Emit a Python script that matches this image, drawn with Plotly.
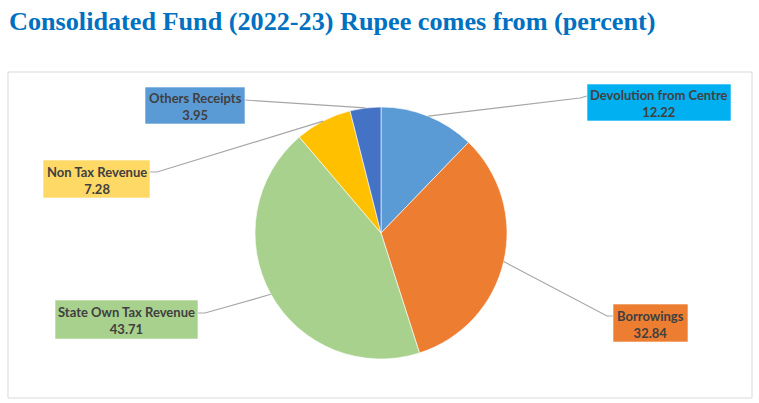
import math
import plotly.graph_objects as go

W, H = 759, 403

labels = ["Devolution from Centre", "Borrowings", "State Own Tax Revenue", "Non Tax Revenue", "Others Receipts"]
values = [12.22, 32.84, 43.71, 7.28, 3.95]
slice_colors = ["#5B9BD5", "#ED7D31", "#A9D18E", "#FFC000", "#4472C4"]
box_colors = ["#00B0F0", "#ED7D31", "#A9D18E", "#FFD966", "#5B9BD5"]

# label box geometry (pixels): x0, y0, x1, y1 ; leader bend point and box attach point
boxes = [(587, 84, 731, 121), (613, 304, 688, 342), (55, 300, 198, 339), (43, 160, 150, 198), (145, 87, 245, 124)]
stubs = [((580, 98), (587, 96)), ((607, 316), (613, 316)), ((205, 313), (198, 313)), ((157, 172), (150, 172)), ((245, 100), (245, 100))]

CX, CY, R = 381, 233, 126


def px(x):
    return x / W


def py(y):
    return 1 - y / H


fig = go.Figure(go.Pie(
    labels=labels, values=values, sort=False, direction="clockwise", rotation=0,
    marker=dict(colors=slice_colors, line=dict(color="white", width=0.6)),
    textinfo="none", hoverinfo="label+value", showlegend=False,
    domain=dict(x=[px(CX - R), px(CX + R)], y=[py(CY + R), py(CY - R)]),
))

shapes = [dict(type="rect", xref="paper", yref="paper", x0=px(8), x1=px(752), y0=py(398), y1=py(72),
               line=dict(color="#D9D9D9", width=1), fillcolor="rgba(0,0,0,0)", layer="below")]
annotations = [dict(text="<b>Consolidated Fund (2022-23) Rupee comes from (percent)</b>", xref="paper", yref="paper",
                    x=px(7), y=py(21), xanchor="left", yanchor="middle", showarrow=False,
                    font=dict(family="Liberation Serif", size=26.2, color="#0070C0"))]

total = sum(values)
cum = 0
for i, (lab, v) in enumerate(zip(labels, values)):
    mid = (cum + v / 2) / total * 2 * math.pi
    cum += v
    ex = CX + R * math.sin(mid)
    ey = CY - R * math.cos(mid)
    (bx, by), (sx, sy) = stubs[i]
    shapes.append(dict(type="path", xref="paper", yref="paper",
                       path=f"M {px(ex)},{py(ey)} L {px(bx)},{py(by)} L {px(sx)},{py(sy)}",
                       line=dict(color="#A6A6A6", width=1.2)))
    x0, y0, x1, y1 = boxes[i]
    shapes.append(dict(type="rect", xref="paper", yref="paper", x0=px(x0), x1=px(x1), y0=py(y1), y1=py(y0),
                       fillcolor=box_colors[i], line=dict(color="rgba(255,255,255,0.6)", width=1)))
    annotations.append(dict(text=f"<b>{lab}</b><br><b>{v:.2f}</b>", xref="paper", yref="paper",
                            x=px((x0 + x1) / 2), y=py((y0 + y1) / 2 + 1), xanchor="center", yanchor="middle",
                            showarrow=False, align="center",
                            font=dict(family="Lato", size=13, color="#404040")))

fig.update_layout(width=W, height=H, margin=dict(l=0, r=0, t=0, b=0),
                  paper_bgcolor="white", plot_bgcolor="white",
                  shapes=shapes, annotations=annotations)
fig.write_html("out.html", config={"displayModeBar": False},
               post_script="document.body.style.margin='0';document.body.style.overflow='hidden';")
